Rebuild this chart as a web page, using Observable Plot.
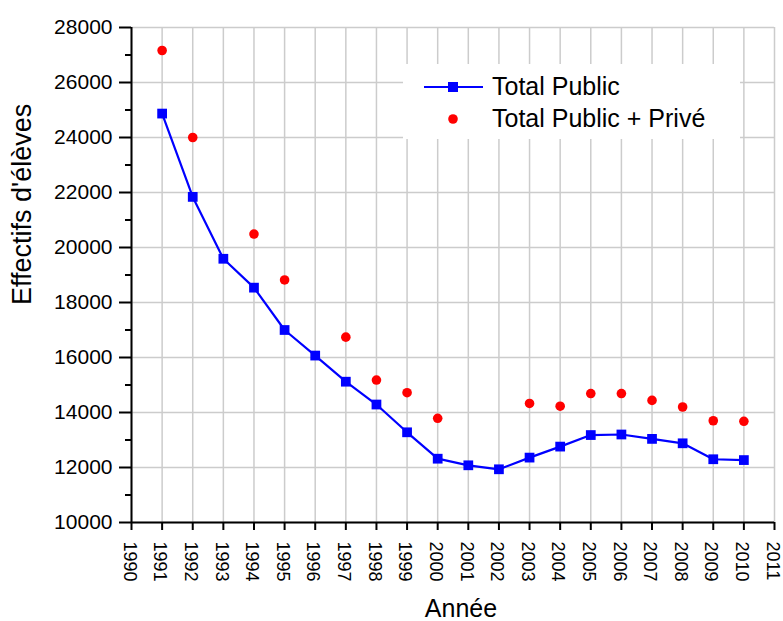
<!DOCTYPE html>
<html>
<head>
<meta charset="utf-8">
<script src="https://cdn.jsdelivr.net/npm/d3@7"></script>
<script src="https://cdn.jsdelivr.net/npm/@observablehq/plot@0.6"></script>
<style>
  body { margin: 0; background: white; }
  #wrap { position: relative; width: 783px; height: 621px; font-family: "Liberation Sans", Arial, sans-serif; }
  #legend { position: absolute; left: 403px; top: 64px; width: 337px; height: 75px; background: white; }
  #legend svg { position: absolute; left: 0; top: 0; }
</style>
</head>
<body>
<div id="wrap"></div>
<script>
// Data
const years = [1991,1992,1993,1994,1995,1996,1997,1998,1999,2000,2001,2002,2003,2004,2005,2006,2007,2008,2009,2010];
const publicTotal = [24870,21840,19590,18540,17000,16070,15120,14290,13280,12320,12080,11935,12360,12760,13180,13200,13040,12880,12300,12270];
const privYears = [1991,1992,1994,1995,1997,1998,1999,2000,2003,2004,2005,2006,2007,2008,2009,2010];
const privTotal = [27163,24000,20490,18820,16740,15180,14720,13790,14330,14230,14690,14690,14440,14200,13700,13680];
const xTicks = d3.range(1990, 2012);
const yTicks = [10000,12000,14000,16000,18000,20000,22000,24000,26000,28000];
const yMinor = [11000,13000,15000,17000,19000,21000,23000,25000,27000];
const seriesNames = ["Total Public", "Total Public + Privé"];
const xLabel = "Année";
const yLabel = "Effectifs d'élèves";

const pub = years.map((y, i) => ({year: y, value: publicTotal[i]}));
const priv = privYears.map((y, i) => ({year: y, value: privTotal[i]}));

const grid = {stroke: "#cccccc", strokeOpacity: 1, strokeWidth: 1.5};

const chart = Plot.plot({
  width: 783,
  height: 621,
  marginLeft: 131,
  marginRight: 9,
  marginTop: 27,
  marginBottom: 99,
  style: {fontFamily: "'Liberation Sans', Arial, sans-serif", color: "black", background: "white", overflow: "visible"},
  x: {domain: [1990, 2011]},
  y: {domain: [10000, 28000]},
  marks: [
    Plot.gridX(xTicks, grid),
    Plot.gridY(yTicks, grid),
    Plot.axisX(xTicks, {tickSize: 8, tickFormat: () => "", label: null, strokeWidth: 2}),
    Plot.axisX(xTicks, {tickRotate: 90, tickSize: 0, tickPadding: 19, dx: -2, fontSize: 18, tickFormat: d => String(d), label: null}),
    Plot.axisY(yTicks, {tickSize: 12, tickPadding: 7, fontSize: 21, tickFormat: d => String(d), label: null, strokeWidth: 2}),
    Plot.axisY(yMinor, {tickSize: 6, tickFormat: () => "", label: null, strokeWidth: 2}),
    Plot.ruleX([1990], {stroke: "black", strokeWidth: 2}),
    Plot.ruleY([10000], {stroke: "black", strokeWidth: 2}),
    Plot.line(pub, {x: "year", y: "value", stroke: "#0000ff", strokeWidth: 2.2}),
    Plot.dot(pub, {x: "year", y: "value", symbol: "square", fill: "#0000ff", r: 5.5}),
    Plot.dot(priv, {x: "year", y: "value", fill: "#ff0000", r: 4.8}),
    Plot.text([xLabel], {frameAnchor: "bottom", text: d => d, dx: 8, dy: 94, lineAnchor: "bottom", fontSize: 25}),
    Plot.text([yLabel], {frameAnchor: "left", text: d => d, rotate: -90, dx: -109, dy: 30, lineAnchor: "middle", fontSize: 27})
  ]
});

const wrap = document.getElementById("wrap");
wrap.appendChild(chart);

// Legend
const legend = document.createElement("div");
legend.id = "legend";
legend.innerHTML = `
<svg width="337" height="75" font-family="'Liberation Sans', Arial, sans-serif">
  <line x1="21" x2="80" y1="23" y2="23" stroke="#0000ff" stroke-width="2.2"/>
  <rect x="45" y="18" width="10" height="10" fill="#0000ff"/>
  <text x="89" y="31" font-size="25">${seriesNames[0]}</text>
  <circle cx="50" cy="55" r="4.8" fill="#ff0000"/>
  <text x="89" y="63" font-size="25">${seriesNames[1]}</text>
</svg>`;
wrap.appendChild(legend);
</script>
</body>
</html>
